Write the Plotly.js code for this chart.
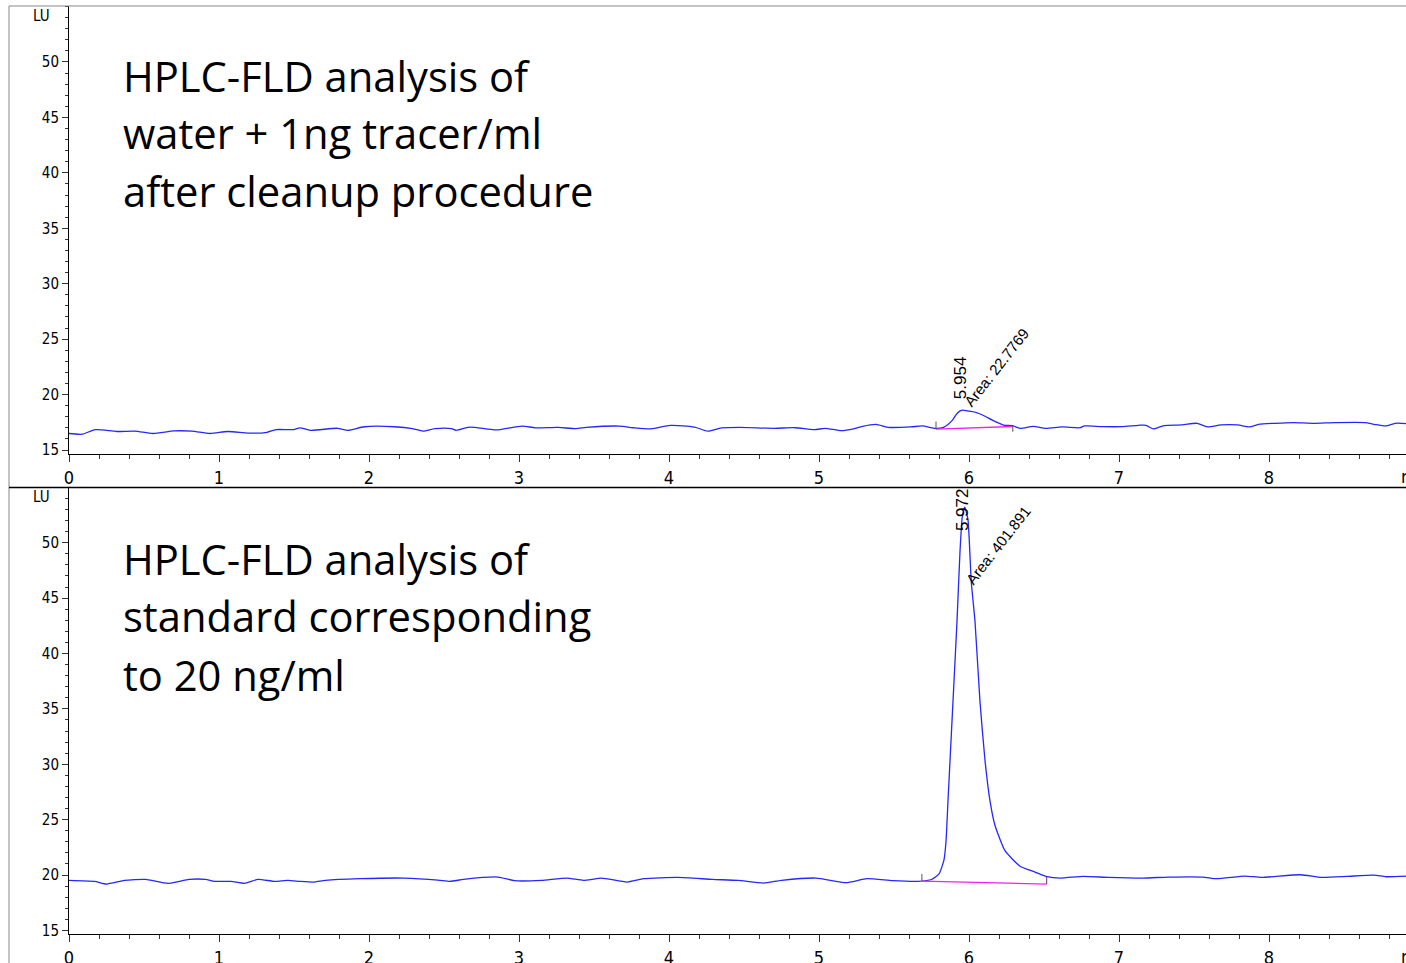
<!DOCTYPE html>
<html>
<head>
<meta charset="utf-8">
<script src="https://cdn.plot.ly/plotly-3.0.1.min.js"></script>
<style>html,body{margin:0;padding:0;background:#fff;}#chart{width:1406px;height:963px;}</style>
</head>
<body>
<div id="chart"></div>
<script>
// ---------- Data ----------
// Top chromatogram: water + 1 ng tracer/ml after cleanup
const topTime = [0, 0.09, 0.175, 0.32, 0.44, 0.56, 0.70, 0.82, 0.94, 1.06, 1.2, 1.32, 1.38, 1.5, 1.54, 1.61, 1.79, 1.86, 1.97, 2.17,
  2.29, 2.36, 2.44, 2.55, 2.58, 2.67, 2.85, 3.02, 3.11, 3.26, 3.38, 3.45, 3.67, 3.76, 3.88, 4.01, 4.17, 4.26, 4.35, 4.47,
  4.70, 4.84, 4.97, 5.04, 5.15, 5.23, 5.29, 5.38, 5.46, 5.61, 5.69, 5.77, 5.83, 5.89, 5.92, 5.954, 6.0, 6.05, 6.09, 6.17,
  6.23, 6.29, 6.34, 6.43, 6.51, 6.62, 6.74, 6.77, 6.89, 7.02, 7.13, 7.18, 7.23, 7.30, 7.42, 7.52, 7.59, 7.68, 7.79, 7.87,
  7.93, 8.04, 8.16, 8.30, 8.44, 8.64, 8.70, 8.78, 8.84, 8.92];
const topSignal = [16.49, 16.43, 16.84, 16.67, 16.70, 16.49, 16.72, 16.70, 16.49, 16.67, 16.52, 16.60, 16.84, 16.84, 17.00, 16.78, 16.96, 16.78, 17.10, 17.10,
  16.93, 16.70, 16.93, 16.93, 16.78, 17.07, 16.81, 17.16, 17.00, 17.04, 16.93, 17.04, 17.16, 17.01, 16.90, 17.22, 17.07, 16.70, 17.00, 17.05,
  16.96, 17.01, 16.83, 16.96, 16.74, 16.90, 17.14, 17.32, 17.05, 17.08, 17.17, 16.96, 17.05, 17.70, 18.30, 18.60, 18.50, 18.38, 18.16, 17.60,
  17.25, 17.19, 16.96, 17.14, 16.96, 17.08, 17.01, 17.17, 17.11, 17.11, 17.23, 17.23, 16.90, 17.20, 17.26, 17.41, 17.08, 17.26, 17.26, 17.08,
  17.32, 17.41, 17.47, 17.41, 17.47, 17.47, 17.32, 17.17, 17.41, 17.38];

// Bottom chromatogram: standard 20 ng/ml
const botTime = [0, 0.17, 0.25, 0.37, 0.51, 0.66, 0.80, 0.91, 0.97, 1.08, 1.17, 1.26, 1.37, 1.46, 1.54, 1.63, 1.71, 1.94, 2.23, 2.46,
  2.54, 2.63, 2.86, 2.97, 3.15, 3.32, 3.43, 3.55, 3.72, 3.83, 4.06, 4.29, 4.46, 4.63, 4.75, 4.98, 5.18, 5.32, 5.49, 5.66,
  5.75, 5.80, 5.833, 5.847, 5.86, 5.88, 5.90, 5.92, 5.94, 5.955, 5.972, 5.993, 6.015, 6.04, 6.073, 6.107, 6.14, 6.173, 6.24, 6.34,
  6.44, 6.52, 6.61, 6.76, 6.93, 7.16, 7.33, 7.56, 7.65, 7.84, 7.95, 8.21, 8.35, 8.52, 8.70, 8.78, 8.92];
const botSignal = [19.52, 19.43, 19.19, 19.52, 19.61, 19.25, 19.61, 19.61, 19.43, 19.43, 19.25, 19.61, 19.43, 19.52, 19.43, 19.37, 19.52, 19.67, 19.73, 19.55,
  19.43, 19.61, 19.82, 19.49, 19.52, 19.73, 19.52, 19.73, 19.37, 19.67, 19.79, 19.61, 19.52, 19.28, 19.52, 19.73, 19.31, 19.67, 19.49, 19.43,
  19.60, 20.10, 21.35, 23.10, 26.70, 32.10, 37.50, 42.90, 49.20, 52.30, 53.20, 52.10, 46.50, 42.90, 35.70, 30.30, 26.70, 24.50, 22.20, 20.80,
  20.27, 19.85, 19.73, 19.88, 19.79, 19.73, 19.82, 19.82, 19.67, 19.91, 19.79, 20.03, 19.79, 19.88, 20.00, 19.85, 19.90];

// Peak integration results
const topPeakRT = 5.954, topPeakApex = 18.6, topPeakArea = "22.7769";
const topBaseTime = [5.78, 6.292], topBaseSignal = [16.89, 17.12];
const botPeakRT = 5.972, botPeakApex = 53.2, botPeakArea = "401.891";
const botBaseTime = [5.686, 6.518], botBaseSignal = [19.46, 19.19];

// Integration event marks (time, low, high)
const topMarkTime = [5.78, 6.292], topMarkLow = [16.89, 16.65], topMarkHigh = [17.57, 17.16];
const botMarkTime = [5.686, 6.518], botMarkLow = [19.46, 19.19], botMarkHigh = [20.09, 19.85];

const xTickVals = [0, 1, 2, 3, 4, 5, 6, 7, 8];
const yTickVals = [15, 20, 25, 30, 35, 40, 45, 50];
const topText = ["HPLC-FLD analysis of", "water + 1ng tracer/ml", "after cleanup procedure"];
const botText = ["HPLC-FLD analysis of", "standard corresponding", "to 20 ng/ml"];

// ---------- Geometry ----------
const W = 1406, H = 963;
const px = v => v / W, py = v => (H - v) / H;
const BLUE = 'rgb(38,38,255)';
const MAG = '#f020f0';
const tickFont = {family: '"Liberation Sans Narrow", "Arial Narrow", "DejaVu Sans Condensed", "Liberation Sans", Arial, sans-serif', size: 15, color: '#000'};
const xTickFont = Object.assign({}, tickFont, {size: 18});
const bigFont = {family: '"Open Sans", "Noto Sans", sans-serif', size: 41.7, color: '#000'};
const lblFont = {family: '"Liberation Sans", Arial, sans-serif', size: 17, color: '#000'};
const areaFont = {family: '"Liberation Sans", Arial, sans-serif', size: 15, color: '#000'};

function marks(t, lo, hi, xa, ya, colors) {
  return t.map((tt, i) => ({
    type: 'scatter', mode: 'lines', x: [tt, tt], y: [lo[i], hi[i]], xaxis: xa, yaxis: ya,
    line: {color: colors[i], width: 1}, hoverinfo: 'skip', showlegend: false
  }));
}

const traces = [
  {type: 'scatter', mode: 'lines', x: topTime, y: topSignal, xaxis: 'x', yaxis: 'y',
   line: {color: BLUE, width: 1.3, shape: 'spline', smoothing: 0.7}, showlegend: false},
  {type: 'scatter', mode: 'lines', x: topBaseTime, y: topBaseSignal, xaxis: 'x', yaxis: 'y',
   line: {color: MAG, width: 1.3}, showlegend: false},
  {type: 'scatter', mode: 'lines', x: botTime, y: botSignal, xaxis: 'x2', yaxis: 'y2',
   line: {color: BLUE, width: 1.3, shape: 'spline', smoothing: 0.5}, showlegend: false},
  {type: 'scatter', mode: 'lines', x: botBaseTime, y: botBaseSignal, xaxis: 'x2', yaxis: 'y2',
   line: {color: MAG, width: 1.3}, showlegend: false},
  ...marks(topMarkTime, topMarkLow, topMarkHigh, 'x', 'y', ['#555', '#555']),
  ...marks(botMarkTime, botMarkLow, botMarkHigh, 'x2', 'y2', ['#555', '#802080'])
];

const xRange = [0, (W - 69) / 150];
function xAxis(anchor) {
  return {
    domain: [px(69), 1], range: xRange, anchor: anchor,
    showline: true, linecolor: '#000', linewidth: 1, showgrid: false, zeroline: false,
    ticks: 'outside', ticklen: 7, tickwidth: 1, tickcolor: '#333',
    tickmode: 'array', tickvals: xTickVals, ticktext: xTickVals.map(String), tickfont: xTickFont,
    minor: {tickmode: 'linear', tick0: 0, dtick: 0.2, ticks: 'outside', ticklen: 4, tickcolor: '#333', showgrid: false}
  };
}
function yAxis(anchor, dom, rng) {
  return {
    domain: dom, range: rng, anchor: anchor,
    showline: true, linecolor: '#000', linewidth: 1, showgrid: false, zeroline: false,
    ticks: 'outside', ticklen: 6, tickwidth: 1, tickcolor: '#333',
    tickmode: 'array', tickvals: yTickVals, ticktext: yTickVals.map(String), tickfont: tickFont,
    minor: {tickmode: 'linear', tick0: 0, dtick: 1, ticks: 'outside', ticklen: 3, tickcolor: '#333', showgrid: false}
  };
}

const annotations = [];
topText.forEach((t, i) => annotations.push({xref: 'paper', yref: 'paper', x: px(121), y: py(75 + 58 * i),
  xanchor: 'left', yanchor: 'middle', text: t, showarrow: false, font: bigFont}));
botText.forEach((t, i) => annotations.push({xref: 'paper', yref: 'paper', x: px(121), y: py(558 + 58 * i),
  xanchor: 'left', yanchor: 'middle', text: t, showarrow: false, font: bigFont}));
// unit labels
annotations.push({xref: 'paper', yref: 'paper', x: px(41), y: py(16), text: 'LU', showarrow: false, font: tickFont, xanchor: 'center', yanchor: 'middle'});
annotations.push({xref: 'paper', yref: 'paper', x: px(41), y: py(497), text: 'LU', showarrow: false, font: tickFont, xanchor: 'center', yanchor: 'middle'});
annotations.push({xref: 'paper', yref: 'paper', x: px(1399), y: py(476), text: 'min', showarrow: false, font: xTickFont, xanchor: 'left', yanchor: 'middle'});
annotations.push({xref: 'paper', yref: 'paper', x: px(1399), y: py(956), text: 'min', showarrow: false, font: xTickFont, xanchor: 'left', yanchor: 'middle'});
// peak labels
annotations.push({xref: 'x', yref: 'y', x: topPeakRT, y: topPeakApex, text: topPeakRT.toFixed(3), textangle: -90,
  showarrow: false, font: lblFont, xshift: -2, yshift: 32});
annotations.push({xref: 'x', yref: 'y', x: topPeakRT, y: topPeakApex, text: 'Area: ' + topPeakArea, textangle: -52,
  showarrow: false, font: areaFont, xshift: 34, yshift: 43});
annotations.push({xref: 'x2', yref: 'y2', x: botPeakRT, y: botPeakApex, text: botPeakRT.toFixed(3), textangle: -90,
  showarrow: false, font: lblFont, xshift: -3, yshift: -2});
annotations.push({xref: 'x2', yref: 'y2', x: botPeakRT, y: botPeakApex, text: 'Area: ' + botPeakArea, textangle: -52,
  showarrow: false, font: areaFont, xshift: 33, yshift: -38});

const shapes = [
  {type: 'line', xref: 'paper', yref: 'paper', x0: px(9), x1: px(9), y0: 0, y1: py(6), line: {color: '#888', width: 1}},
  {type: 'line', xref: 'paper', yref: 'paper', x0: px(9), x1: 1, y0: py(6), y1: py(6), line: {color: '#888', width: 1}},
  {type: 'line', xref: 'paper', yref: 'paper', x0: px(9), x1: 1, y0: py(487.5), y1: py(487.5), line: {color: '#000', width: 1.5}}
];

const layout = {
  width: W, height: H, margin: {l: 0, r: 0, t: 0, b: 0},
  paper_bgcolor: '#fff', plot_bgcolor: '#fff', showlegend: false,
  xaxis: xAxis('y'),
  yaxis: yAxis('x', [py(454), py(6)], [14.64, 55.05]),
  xaxis2: xAxis('y2'),
  yaxis2: yAxis('x2', [py(934), py(487)], [14.68, 55.03]),
  annotations: annotations, shapes: shapes
};

Plotly.newPlot('chart', traces, layout, {staticPlot: true});
</script>
</body>
</html>
